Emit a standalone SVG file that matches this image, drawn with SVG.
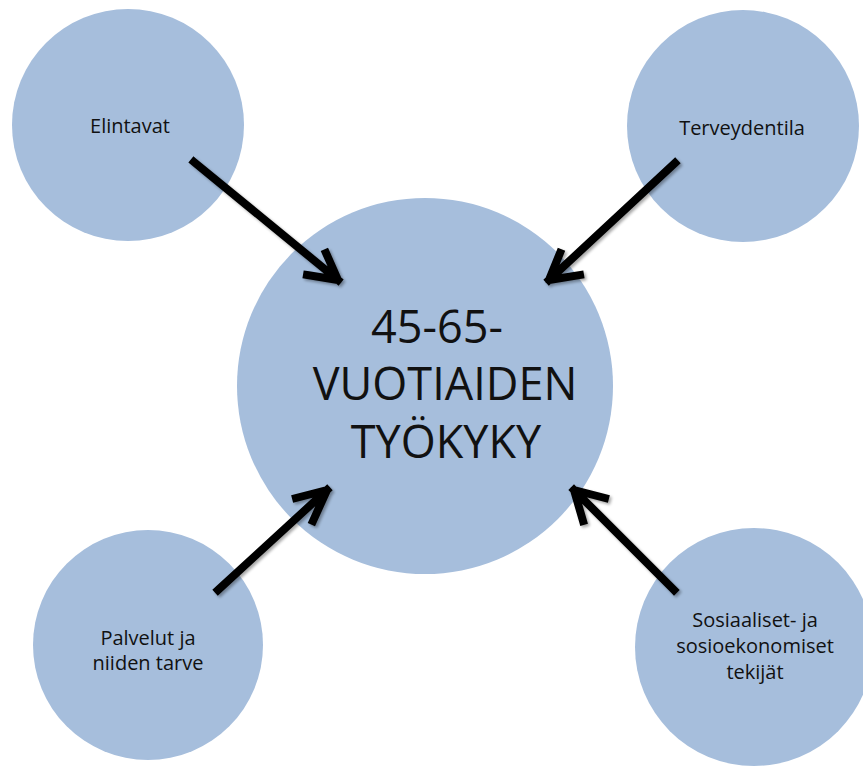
<svg xmlns="http://www.w3.org/2000/svg" width="863" height="770" viewBox="0 0 863 770">
<style>
.node{fill:#A6BEDC}
.lbl{font-family:"Open Sans","Liberation Sans",sans-serif;font-size:20px;fill:#111;text-anchor:middle}
.big{font-family:"Open Sans","Liberation Sans",sans-serif;font-size:45px;fill:#111;text-anchor:middle}
.arr{fill:none;stroke:#000;stroke-width:8;stroke-linecap:square;stroke-linejoin:round}
</style>
<defs>
<filter id="sh" x="-20%" y="-20%" width="140%" height="140%">
<feGaussianBlur in="SourceAlpha" stdDeviation="1.5"/>
<feOffset dx="2" dy="2" result="o"/>
<feComponentTransfer><feFuncA type="linear" slope="0.35"/></feComponentTransfer>
<feMerge><feMergeNode/><feMergeNode in="SourceGraphic"/></feMerge>
</filter>
</defs>
<rect width="863" height="770" fill="#fff"/>
<g id="elintavat"><circle class="node" cx="128" cy="125" r="116"/><text class="lbl" x="130" y="133">Elintavat</text></g>
<g id="terveydentila"><circle class="node" cx="743" cy="126" r="116"/><text class="lbl" x="742" y="135">Terveydentila</text></g>
<g id="palvelut"><circle class="node" cx="148" cy="645" r="115"/><text class="lbl" x="148" y="645">Palvelut ja</text><text class="lbl" x="148" y="670">niiden tarve</text></g>
<g id="sosiaaliset"><circle class="node" cx="754" cy="647" r="119"/><text class="lbl" x="755" y="627">Sosiaaliset- ja</text><text class="lbl" x="755" y="653">sosioekonomiset</text><text class="lbl" x="755" y="679">tekijät</text></g>
<g id="tyokyky"><circle class="node" cx="425" cy="386" r="188"/><text class="big" x="437" y="343">45-65-</text><text class="big" x="445" y="400">VUOTIAIDEN</text><text class="big" x="446" y="458">TYÖKYKY</text></g>
<g id="connectors" filter="url(#sh)">
<path class="arr" d="M194 162 L338 280 M307 275 L338 280 L326 253"/>
<path class="arr" d="M675 163 L549 280 M560 253 L549 280 L580 275"/>
<path class="arr" d="M218 590 L327 490 M296 498 L327 490 L313 521"/>
<path class="arr" d="M674 590 L574 490 M583 521 L574 490 L605 498"/>
</g>
</svg>
